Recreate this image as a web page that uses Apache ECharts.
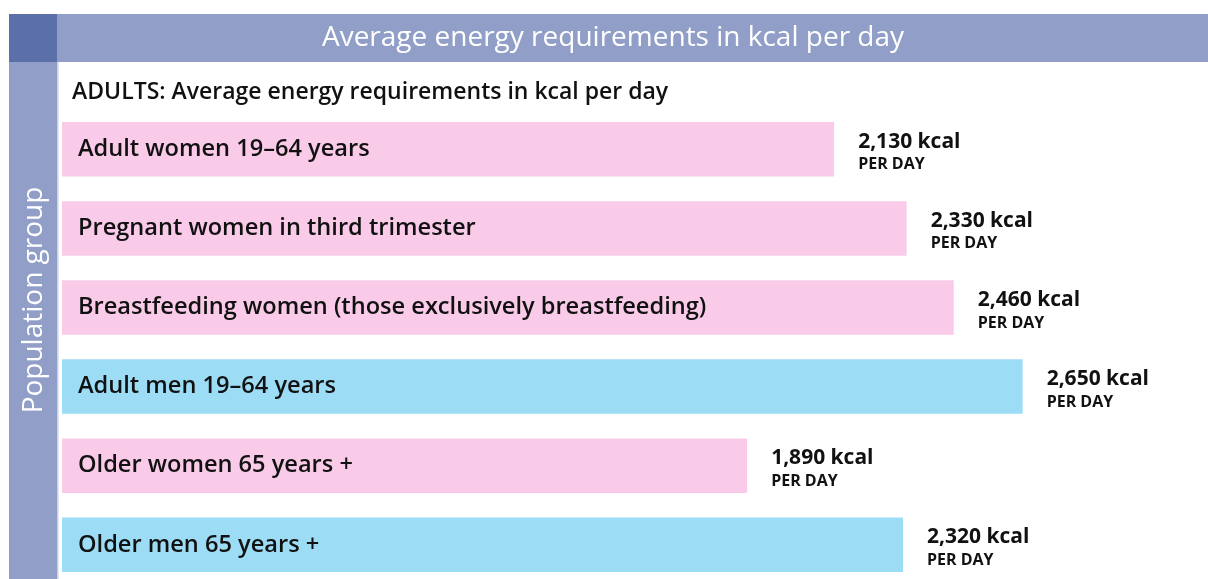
<!DOCTYPE html>
<html><head><meta charset="utf-8">
<script src="https://cdn.jsdelivr.net/npm/echarts@6/dist/echarts.min.js"></script>
<style>html,body{margin:0;padding:0;background:#fff}#c{width:1208px;height:579px}</style>
</head><body><div id="c"></div>
<script>
const categories = [
  "Adult women 19–64 years",
  "Pregnant women in third trimester",
  "Breastfeeding women (those exclusively breastfeeding)",
  "Adult men 19–64 years",
  "Older women 65 years +",
  "Older men 65 years +"
];
const values = [2130, 2330, 2460, 2650, 1890, 2320];
const groups = ["women", "women", "women", "men", "women", "men"];
const titleText = "Average energy requirements in kcal per day";
const subtitleText = "ADULTS: Average energy requirements in kcal per day";
const yAxisName = "Population group";

const FONT = "'Open Sans', 'Noto Sans', sans-serif";
const colors = { women: "#F9CBE8", men: "#9CDDF5" };

const chart = echarts.init(document.getElementById('c'), null, { renderer: 'canvas' });
chart.setOption({
  animation: false,
  backgroundColor: '#ffffff',
  textStyle: { fontFamily: FONT },
  graphic: [
    { type: 'rect', shape: { x: 57, y: 14, width: 1151, height: 48 }, style: { fill: '#919FC8' }, z: 0 },
    { type: 'rect', shape: { x: 9, y: 14, width: 48, height: 48 }, style: { fill: '#5B6FA8' }, z: 0 },
    { type: 'rect', shape: { x: 9, y: 62, width: 48, height: 517 }, style: { fill: '#919FC8' }, z: 0 },
    { type: 'rect', shape: { x: 57, y: 62, width: 1.5, height: 517 }, style: { fill: '#C9D0E6' }, z: 0 },
    { type: 'text', x: 613, y: 38, style: { text: titleText, fill: '#ffffff', font: "500 28px " + FONT, align: 'center', verticalAlign: 'middle' }, z: 5 },
    { type: 'text', x: 72, y: 92, style: { text: subtitleText, fill: '#111111', font: "600 23px " + FONT, align: 'left', verticalAlign: 'middle' }, z: 5 },
    { type: 'text', x: 34, y: 300, rotation: Math.PI / 2, style: { text: yAxisName, fill: '#ffffff', font: "500 28px " + FONT, align: 'center', verticalAlign: 'middle' }, z: 5 }
  ],
  grid: { left: 62, right: 58.5, top: 149.3, height: 395.5, containLabel: false },
  xAxis: { type: 'value', min: 0, max: 3000, show: false },
  yAxis: {
    type: 'category', data: categories, inverse: true, boundaryGap: false, z: 10,
    axisLine: { show: false }, axisTick: { show: false }, splitLine: { show: false },
    axisLabel: { inside: true, margin: 16, color: '#111111', fontSize: 23.6, fontWeight: 600, fontFamily: FONT }
  },
  series: [{
    type: 'bar',
    barWidth: 54.5,
    data: values.map((v, i) => ({ value: v, itemStyle: { color: colors[groups[i]] } })),
    label: {
      show: true, position: 'right', distance: 24, offset: [0, 2.5],
      formatter: p => '{a|' + p.value.toLocaleString('en-US') + ' kcal}\n{b|PER DAY}',
      rich: {
        a: { fontSize: 21, fontWeight: 700, color: '#111111', fontFamily: FONT, lineHeight: 26 },
        b: { fontSize: 16, fontWeight: 700, color: '#111111', fontFamily: FONT, lineHeight: 20 }
      }
    }
  }]
});
</script></body></html>
